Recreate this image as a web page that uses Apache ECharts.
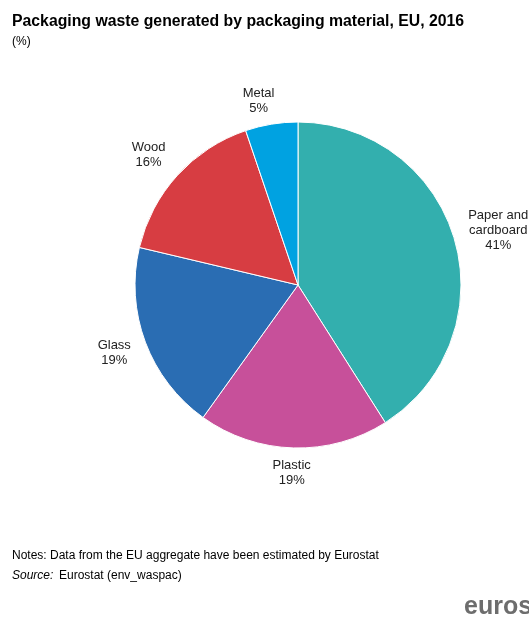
<!DOCTYPE html>
<html>
<head>
<meta charset="utf-8">
<script src="https://cdn.jsdelivr.net/npm/echarts@6/dist/echarts.min.js"></script>
<style>
html,body{margin:0;padding:0;background:#fff;}
#chart{width:529px;height:617px;}
</style>
</head>
<body>
<div id="chart"></div>
<script>
// Data
const categories = ['Paper and\ncardboard', 'Plastic', 'Glass', 'Wood', 'Metal'];
const values = [41.0, 18.9, 18.8, 16.1, 5.2];
const labelPercents = [41, 19, 19, 16, 5];
const colors = ['#33AFAE', '#C7509A', '#2A6DB3', '#D73D42', '#00A2E1'];
const labelLengths = [34, 25, 30, 31, 24];
const labelLengths2 = [11, 1, 3, 6, 9];

const FONT = "'Liberation Sans', Arial, sans-serif";
const BOX_W = 90;

const chart = echarts.init(document.getElementById('chart'), null, {renderer: 'canvas'});

const pieData = categories.map((name, i) => ({
  name: name,
  value: values[i],
  pct: labelPercents[i],
  itemStyle: {color: colors[i]},
  labelLine: {length: labelLengths[i], length2: labelLengths2[i]}
}));

chart.setOption({
  animation: false,
  backgroundColor: '#fff',
  title: [
    {text: 'Packaging waste generated by packaging material, EU, 2016', left: 7, top: 9,
     textStyle: {fontFamily: FONT, fontSize: 15.8, fontWeight: 'bold', color: '#000'}},
    {text: '(%)', left: 7, top: 31, textStyle: {fontFamily: FONT, fontSize: 12, fontWeight: 'normal', color: '#000'}}
  ],
  graphic: [
    {type: 'text', left: 12, top: 550, style: {text: 'Notes: Data from the EU aggregate have been estimated by Eurostat', font: '12px ' + FONT, fill: '#000'}},
    {type: 'text', left: 12, top: 570, style: {text: 'Source:', font: 'italic 12px ' + FONT, fill: '#000'}},
    {type: 'text', left: 59, top: 570, style: {text: 'Eurostat (env_waspac)', font: '12px ' + FONT, fill: '#000'}},
    {type: 'text', left: 464, top: 595, style: {text: 'eurostat', font: 'bold 25px ' + FONT, fill: '#6d6d6d'}}
  ],
  series: [{
    type: 'pie',
    center: [298, 285],
    radius: 163,
    startAngle: 90,
    clockwise: true,
    avoidLabelOverlap: false,
    data: pieData,
    itemStyle: {borderColor: '#fff', borderWidth: 1},
    labelLine: {show: false, length: 30, length2: 0},
    label: {
      show: true,
      position: 'outside',
      distanceToLabelLine: -BOX_W / 2,
      formatter: function (p) {
        const lines = p.name.split('\n').concat([p.data.pct + '%']);
        return lines.map(l => '{a|' + l + '}').join('\n');
      },
      rich: {
        a: {fontFamily: FONT, fontSize: 13, lineHeight: 15, color: '#222', align: 'center', width: BOX_W}
      }
    },
    emphasis: {disabled: true}
  }]
});
</script>
</body>
</html>
